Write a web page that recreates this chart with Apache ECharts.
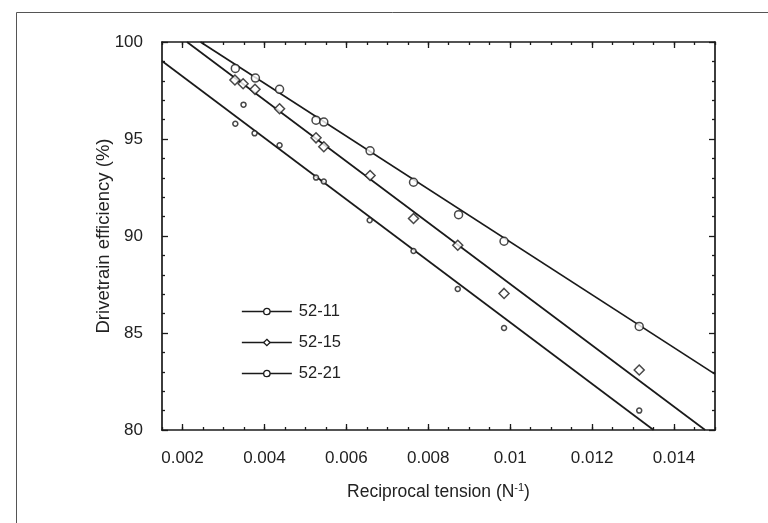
<!DOCTYPE html>
<html>
<head>
    <meta charset="utf-8">
    <title>Drivetrain efficiency</title>
    <script src="https://cdn.jsdelivr.net/npm/echarts@6/dist/echarts.min.js"></script>
    <style>
        html, body { margin: 0; padding: 0; background: #fff; }
        #chart { width: 768px; height: 523px; }
    </style>
</head>
<body>
<div id="chart"></div>
<script type="text/javascript">
    // reciprocal tension (1/N) and efficiency (%)
    var x11 = [0.00329, 0.00349, 0.00376, 0.00437, 0.00526, 0.00545, 0.00657, 0.00764, 0.00872, 0.00985, 0.01315];
    var y11 = [95.79, 96.77, 95.29, 94.68, 93.01, 92.81, 90.81, 89.23, 87.27, 85.26, 81.0];

    var x15 = [0.00328, 0.00348, 0.00377, 0.00437, 0.00526, 0.00545, 0.00658, 0.00764, 0.00872, 0.00985, 0.01315];
    var y15 = [98.04, 97.85, 97.56, 96.56, 95.06, 94.60, 93.12, 90.90, 89.52, 87.04, 83.09];

    var x21 = [0.00329, 0.00378, 0.00437, 0.00526, 0.00545, 0.00658, 0.00764, 0.00874, 0.00985, 0.01315];
    var y21 = [98.64, 98.14, 97.56, 95.97, 95.87, 94.39, 92.77, 91.10, 89.73, 85.34];

    // end points of the fitted lines
    var fit11 = [[0.0015, 99.02], [0.01350, 80]];
    var fit15 = [[0.00211, 100], [0.01476, 80]];
    var fit21 = [[0.00244, 100], [0.015, 82.88]];

    var names = ['52-11', '52-15', '52-21'];
    var xTicks = [0.002, 0.004, 0.006, 0.008, 0.010, 0.012, 0.014];

    function zip(xs, ys) {
        return xs.map(function (x, i) { return [x, ys[i]]; });
    }

    var ink = '#1a1a1a';
    var font = '"Liberation Sans", Arial, sans-serif';

    function xAx(pos, major, labels) {
        var a = {
            type: 'value', position: pos, min: 0.0015, max: 0.015,
            splitLine: { show: false },
            axisLine: { show: major, lineStyle: { color: ink, width: 1.7 } },
            axisTick: { show: true, inside: true, length: major ? 6 : 3, lineStyle: { color: ink, width: 1.3 } },
            axisLabel: { show: false }
        };
        if (major) {
            a.axisTick.customValues = xTicks;
        } else {
            a.interval = 0.0005;
        }
        if (labels) {
            a.axisLabel = {
                show: true, customValues: xTicks, margin: 20,
                fontSize: 17, color: '#222', fontFamily: font,
                formatter: function (v) { return String(+v.toFixed(3)); }
            };
            a.name = 'Reciprocal tension (N{sup|-1})';
            a.nameLocation = 'middle';
            a.nameGap = 52;
            a.nameMoveOverlap = false;
            a.nameTextStyle = {
                fontSize: 17.5, color: '#222', fontFamily: font,
                rich: { sup: { fontSize: 11, color: '#222', fontFamily: font, verticalAlign: 'top', padding: [0, 0, 9, 0] } }
            };
        }
        return a;
    }

    function yAx(pos, labels) {
        var a = {
            type: 'value', position: pos, min: 80, max: 100, interval: 5,
            splitLine: { show: false },
            axisLine: { show: true, lineStyle: { color: ink, width: 1.7 } },
            axisTick: { show: true, inside: true, length: 6, lineStyle: { color: ink, width: 1.3 } },
            minorTick: { show: true, splitNumber: 5, length: 3, lineStyle: { color: ink, width: 1.3 } },
            axisLabel: { show: false }
        };
        if (labels) {
            a.axisLabel = { show: true, margin: 19, fontSize: 17, color: '#222', fontFamily: font };
            a.name = 'Drivetrain efficiency (%)';
            a.nameLocation = 'middle';
            a.nameGap = 49;
            a.nameMoveOverlap = false;
            a.nameTextStyle = { fontSize: 18.5, color: '#222', fontFamily: font };
        }
        return a;
    }

    function pts(data, sym, size) {
        return {
            type: 'scatter', name: 'pts', data: data, symbol: sym, symbolSize: size, z: 5,
            itemStyle: { color: '#fff', borderColor: ink, borderWidth: 1.5 },
            emphasis: { disabled: true }
        };
    }

    function fit(name, data, sym) {
        return {
            type: 'line', name: name, data: data, symbol: sym, showSymbol: false, z: 3,
            lineStyle: { color: ink, width: 1.7 },
            itemStyle: { color: '#fff', borderColor: ink, borderWidth: 1.3 },
            emphasis: { disabled: true }
        };
    }

    var myChart = echarts.init(document.getElementById('chart'));
    var option = {
        animation: false,
        backgroundColor: '#fff',
        textStyle: { fontFamily: font },
        grid: { left: 162, right: 53, top: 42, bottom: 93 },
        xAxis: [xAx('bottom', true, true), xAx('bottom', false, false), xAx('top', true, false), xAx('top', false, false)],
        yAxis: [yAx('left', true), yAx('right', false)],
        legend: {
            data: names, orient: 'vertical', left: 241, top: 303, padding: 0,
            itemWidth: 50, itemHeight: 8, itemGap: 14, selectedMode: false,
            itemStyle: { borderWidth: 1.3 },
            lineStyle: { width: 1.7 },
            textStyle: { fontSize: 16.5, color: '#222', fontFamily: font, padding: [0, 0, 0, 2] }
        },
        graphic: [
            { type: 'polyline', silent: true, shape: { points: [[16.5, 523], [16.5, 12.5], [768, 12.5]] },
              style: { stroke: '#555', lineWidth: 1, fill: null } }
        ],
        series: [
            fit(names[0], fit11, 'circle'),
            fit(names[1], fit15, 'diamond'),
            fit(names[2], fit21, 'circle'),
            pts(zip(x11, y11), 'circle', 5),
            pts(zip(x15, y15), 'diamond', 10),
            pts(zip(x21, y21), 'circle', 8)
        ]
    };
    myChart.setOption(option);
    window.addEventListener('resize', myChart.resize);
</script>
</body>
</html>
